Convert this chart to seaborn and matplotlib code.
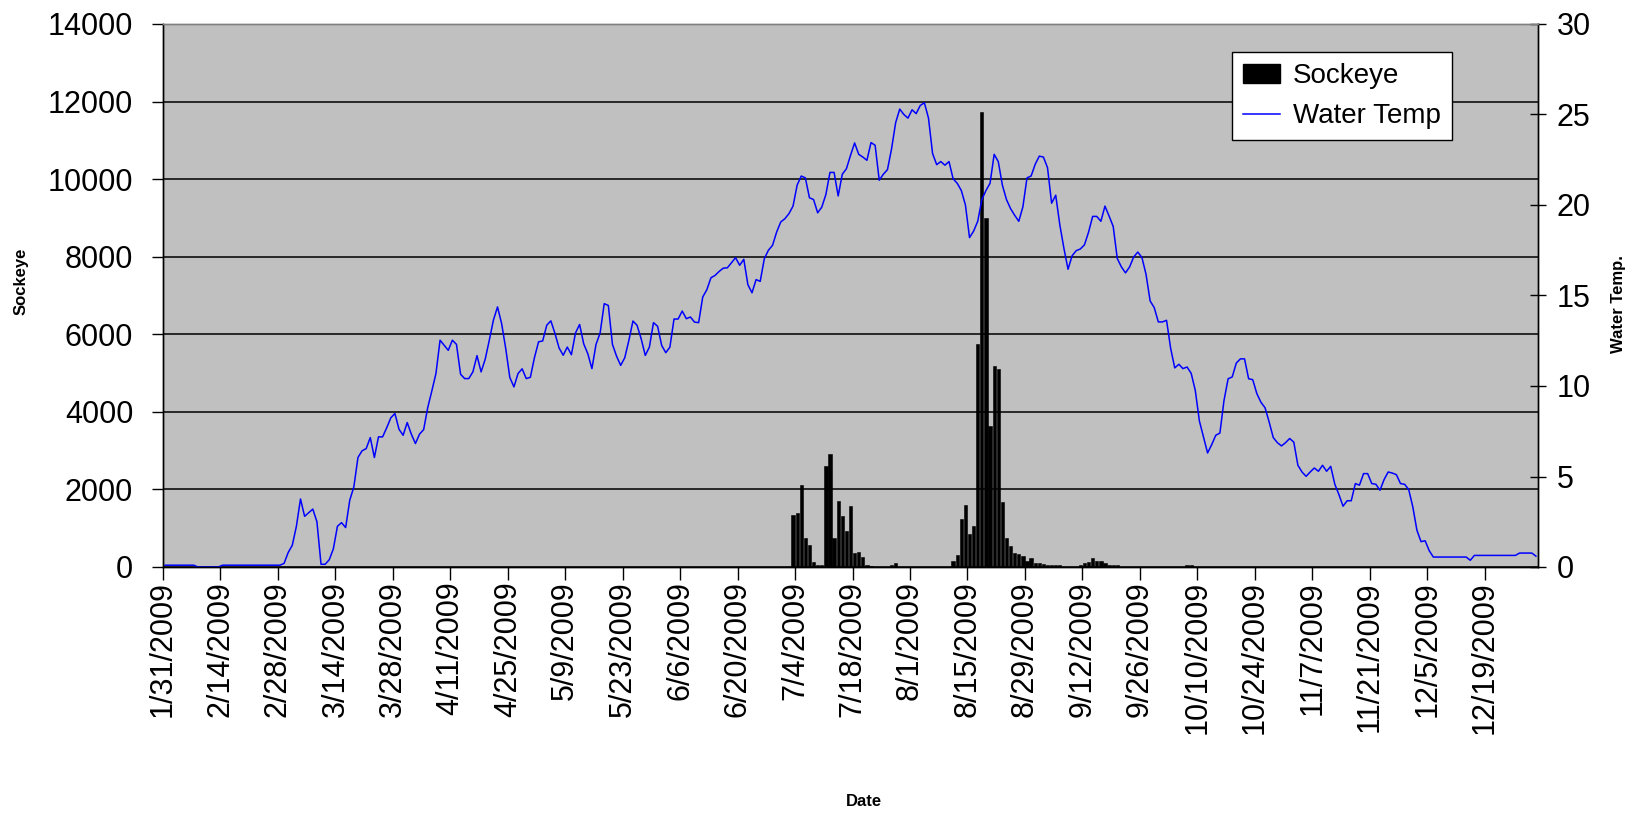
import numpy as np
import pandas as pd
import seaborn as sns
import matplotlib.pyplot as plt
from matplotlib.patches import Patch
from matplotlib.lines import Line2D

# Daily categories: 1/31/2009 .. 12/31/2009 (day 0 = 1/31)
start_date = '2009-01-31'
end_date = '2009-12-31'

# x tick labels (every 14 days)
tick_labels = ['1/31/2009', '2/14/2009', '2/28/2009', '3/14/2009', '3/28/2009',
               '4/11/2009', '4/25/2009', '5/9/2009', '5/23/2009', '6/6/2009',
               '6/20/2009', '7/4/2009', '7/18/2009', '8/1/2009', '8/15/2009',
               '8/29/2009', '9/12/2009', '9/26/2009', '10/10/2009', '10/24/2009',
               '11/7/2009', '11/21/2009', '12/5/2009', '12/19/2009']

# Sockeye counts (days with fish only, day index from 1/31)
sockeye_day = [153, 154, 155, 156, 157, 158, 159, 160, 161, 162,
               163, 164, 165, 166, 167, 168, 169, 170, 171, 172,
               177, 178,
               192, 193, 194, 195, 196, 197, 198, 199, 200, 201,
               202, 203, 204, 205, 206, 207, 208, 209, 210, 211,
               212, 213, 214, 215, 216, 217, 218,
               223, 224, 225, 226, 227, 228, 229, 230, 231, 232,
               249, 250]
sockeye_count = [1350, 1384, 2127, 743, 574, 135, 50, 50, 2608, 2912,
                 743, 1696, 1308, 920, 1561, 354, 397, 270, 50, 20,
                 50, 93,
                 147, 319, 1250, 1595, 845, 1069, 5758, 11740, 9008, 3638,
                 5189, 5103, 1681, 758, 534, 362, 328, 276, 147, 233,
                 103, 103, 86, 43, 43, 43, 43,
                 50, 103, 120, 224, 146, 146, 103, 50, 50, 50,
                 50, 50]

# Daily water temperature
water_temp = [
    0.1, 0.1, 0.1, 0.1, 0.1, 0.1, 0.1, 0.1, 0.0, 0.0,
    0.0, 0.0, 0.0, 0.0, 0.1, 0.1, 0.1, 0.1, 0.1, 0.1,
    0.1, 0.1, 0.1, 0.1, 0.1, 0.1, 0.1, 0.1, 0.1, 0.2,
    0.8, 1.2, 2.25, 3.76, 2.8, 3.0, 3.2, 2.5, 0.15, 0.15,
    0.4, 1.0, 2.25, 2.45, 2.18, 3.69, 4.43, 6.05, 6.42, 6.54,
    7.15, 6.05, 7.19, 7.19, 7.69, 8.24, 8.48, 7.61, 7.28, 7.98,
    7.34, 6.82, 7.34, 7.59, 8.81, 9.73, 10.69, 12.53, 12.25, 11.97,
    12.53, 12.3, 10.65, 10.41, 10.41, 10.78, 11.68, 10.78, 11.48, 12.53,
    13.64, 14.37, 13.45, 12.07, 10.47, 9.95, 10.69, 10.95, 10.41, 10.48,
    11.57, 12.44, 12.49, 13.36, 13.6, 12.9, 12.1, 11.7, 12.15, 11.73,
    12.93, 13.4, 12.33, 11.78, 10.96, 12.3, 12.93, 14.55, 14.45, 12.3,
    11.65, 11.14, 11.56, 12.52, 13.59, 13.35, 12.61, 11.69, 12.15, 13.5,
    13.3, 12.24, 11.84, 12.15, 13.7, 13.7, 14.14, 13.72, 13.81, 13.53,
    13.5, 14.92, 15.32, 15.98, 16.11, 16.33, 16.51, 16.53, 16.81, 17.09,
    16.67, 17.0, 15.6, 15.15, 15.88, 15.78, 17.03, 17.5, 17.77, 18.5,
    19.06, 19.24, 19.52, 19.94, 21.1, 21.6, 21.5, 20.4, 20.3, 19.57,
    19.88, 20.58, 21.8, 21.8, 20.5, 21.7, 22.0, 22.74, 23.43, 22.8,
    22.65, 22.47, 23.45, 23.3, 21.37, 21.7, 21.95, 23.1, 24.55, 25.3,
    25.0, 24.8, 25.26, 25.05, 25.5, 25.65, 24.8, 22.84, 22.23, 22.4,
    22.2, 22.4, 21.45, 21.2, 20.8, 20.0, 18.2, 18.56, 19.1, 20.3,
    20.8, 21.2, 22.8, 22.4, 21.1, 20.3, 19.8, 19.43, 19.1, 19.9,
    21.5, 21.6, 22.25, 22.7, 22.65, 22.06, 20.1, 20.54, 18.9, 17.6,
    16.45, 17.2, 17.48, 17.57, 17.8, 18.5, 19.37, 19.37, 19.1, 19.94,
    19.39, 18.82, 17.04, 16.58, 16.25, 16.58, 17.13, 17.4, 17.1, 16.17,
    14.7, 14.33, 13.54, 13.54, 13.63, 12.08, 11.0, 11.2, 10.96, 11.05,
    10.7, 9.76, 8.07, 7.19, 6.3, 6.76, 7.28, 7.4, 9.2, 10.4,
    10.5, 11.27, 11.5, 11.5, 10.4, 10.35, 9.58, 9.1, 8.8, 8.01,
    7.15, 6.87, 6.69, 6.87, 7.1, 6.9, 5.62, 5.25, 5.01, 5.25,
    5.47, 5.29, 5.62, 5.29, 5.56, 4.57, 4.0, 3.36, 3.66, 3.66,
    4.61, 4.52, 5.16, 5.16, 4.61, 4.57, 4.24, 4.83, 5.25, 5.19,
    5.1, 4.61, 4.57, 4.28, 3.32, 2.03, 1.4, 1.45, 0.9, 0.55,
    0.55, 0.55, 0.55, 0.55, 0.55, 0.55, 0.55, 0.55, 0.37, 0.64,
    0.64, 0.64, 0.64, 0.64, 0.64, 0.64, 0.64, 0.64, 0.64, 0.64,
    0.77, 0.77, 0.77, 0.77, 0.6,
]

# Build the daily table
dates = pd.date_range(start_date, end_date)
n_days = len(dates)
counts = np.zeros(n_days)
counts[sockeye_day] = sockeye_count
df = pd.DataFrame({'day': np.arange(n_days) + 0.5,
                   'sockeye': counts,
                   'temp': water_temp})

plt.rcParams['font.family'] = ['Liberation Sans', 'DejaVu Sans']

W, H = 1642, 814
fig = plt.figure(figsize=(W / 100, H / 100), dpi=100)
ax = fig.add_axes([163 / W, 1 - 567 / H, 1375 / W, 543 / H])
ax.set_facecolor('#C0C0C0')

sns.barplot(data=df, x='day', y='sockeye', native_scale=True, color='black',
            saturation=1, width=0.8, edgecolor='black', linewidth=0.4,
            errorbar=None, ax=ax)

ax2 = ax.twinx()
sns.lineplot(data=df, x='day', y='temp', color='#0000FF', lw=1.1, ax=ax2)

# axes ranges and ticks
ax.set_xlim(0, n_days)
ax.set_ylim(0, 14000)
ax.set_yticks(range(0, 14001, 2000))
ax2.set_ylim(0, 30)
ax2.set_yticks(range(0, 31, 5))
ax.set_xticks(np.arange(0, n_days, 14))
ax.set_xticklabels(tick_labels, rotation=90)

ax.tick_params(axis='x', length=9, width=1, pad=1, labelsize=22)
ax.tick_params(axis='y', length=8, width=1, pad=13.5, labelsize=22)
ax2.tick_params(axis='y', direction='inout', length=11, width=1, pad=8, labelsize=22)

ax.yaxis.grid(True, color='black', lw=1.1)
ax.set_axisbelow(True)

ax.set_xlabel('')
ax.set_ylabel('')
ax2.set_ylabel('')

for a in (ax, ax2):
    for s in a.spines.values():
        s.set_color('black')
        s.set_linewidth(1)
    a.spines['top'].set_color('#808080')

# axis titles
fig.text(21 / W, 1 - 281 / H, 'Sockeye', rotation=90, ha='center', va='center',
         fontsize=12, fontweight='bold')
fig.text(1618 / W, 1 - 304 / H, 'Water Temp.', rotation=90, ha='center', va='center',
         fontsize=12, fontweight='bold')
fig.text(864 / W, 1 - 801 / H, 'Date', ha='center', va='center',
         fontsize=12, fontweight='bold')

# legend
handles = [Patch(facecolor='black', edgecolor='black', label='Sockeye'),
           Line2D([], [], color='#0000FF', lw=1.1, label='Water Temp')]
leg = ax2.legend(handles=handles, loc='upper left', bbox_to_anchor=(0.7775, 0.948),
                 frameon=True, fancybox=False, edgecolor='black', framealpha=1,
                 fontsize=20, borderaxespad=0, handlelength=1.33,
                 handletextpad=0.47, borderpad=0.4, labelspacing=0.5)
leg.get_frame().set_linewidth(1)

fig.savefig('out.png', dpi=100)
plt.close(fig)
